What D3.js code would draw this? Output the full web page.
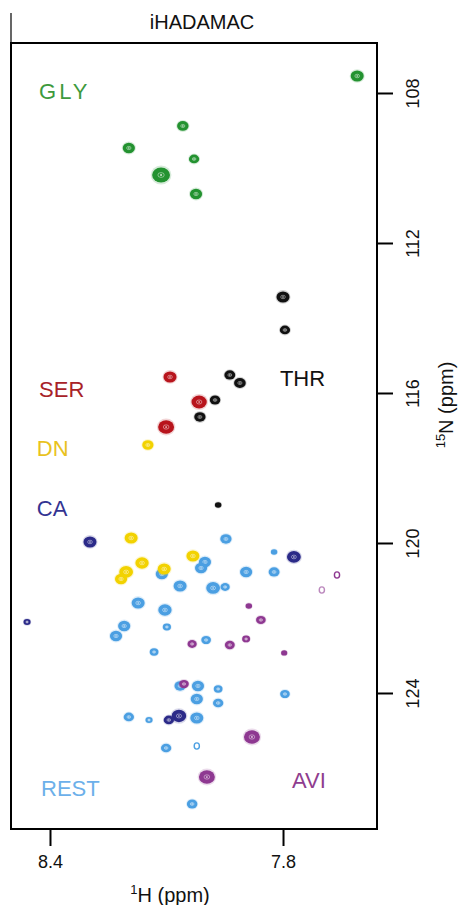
<!DOCTYPE html>
<html>
<head>
<meta charset="utf-8">
<script src="https://cdn.jsdelivr.net/npm/d3@7"></script>
<style>
  html, body { margin: 0; padding: 0; background: #fff; }
  svg { display: block; font-family: "Liberation Sans", Arial, Helvetica, sans-serif; }
</style>
</head>
<body>
<svg id="chart" width="463" height="905"></svg>
<script>
// ---- data: peaks as [1H ppm, 15N ppm, relative intensity] ----
const glyPeaks = [[7.609,107.547,4.0],[8.058,108.88,3.1],[8.197,109.467,3.5],[8.029,109.76,2.5],[8.114,110.187,7.5],[8.024,110.693,3.5]];
const thrPeaks = [[7.800,113.44,4.0],[7.795,114.32,2.5],[7.937,115.52,2.8],[7.911,115.733,3.2],[7.975,116.187,2.6],[8.014,116.64,3.0],[7.967,118.987,1.0]];
const serPeaks = [[8.091,115.573,4.0],[8.016,116.24,5.5],[8.101,116.907,6.0]];
const dnPeaks  = [[8.148,117.387,3.0],[8.191,119.867,4.0],[8.163,120.533,4.2],[8.204,120.773,4.5],[8.217,120.96,3.5],[8.106,120.693,4.0],[8.032,120.347,4.0]];
const caPeaks  = [[8.297,119.973,4.0],[8.459,122.107,1.2],[7.772,120.373,4.5],[8.068,124.613,5.0],[8.094,124.72,2.5]];
const aviPeaks = [[8.034,122.693,2.0],[7.661,120.853,0.8],[7.700,121.253,0.8],[7.888,121.68,1.0],[7.857,122.053,2.2],[7.937,122.72,2.3],[7.895,122.56,1.5],[7.797,122.933,0.9],[8.055,123.76,2.2],[7.880,125.173,6.0],[7.996,126.24,6.0]];
const restPeaks = [[8.112,120.827,3.5],[8.065,121.147,4.0],[8.173,121.6,4.0],[8.104,121.787,4.2],[8.209,122.213,3.5],[8.230,122.48,3.5],[8.099,122.24,1.6],[8.132,122.907,1.8],[7.947,119.893,3.0],[8.001,120.507,3.5],[8.011,120.667,3.5],[7.823,120.24,1.0],[7.895,120.773,3.5],[7.823,120.773,2.8],[7.980,121.2,4.5],[7.949,121.173,2.0],[7.998,122.587,2.2],[8.065,123.813,3.0],[8.019,123.813,3.5],[7.967,123.893,1.8],[7.795,124.027,2.2],[8.022,124.16,3.5],[7.967,124.267,2.5],[8.197,124.64,2.5],[8.145,124.72,1.2],[8.022,124.667,4.0],[8.101,125.467,2.5],[8.022,125.413,0.8],[8.034,126.96,2.6]];

const groupNames = ["REST","DN","CA","AVI","THR","SER","GLY"];
const groupLabelPos = {GLY:[8.428,107.947], SER:[8.428,115.893], THR:[7.808,115.6], DN:[8.434,117.467], CA:[8.434,119.067], REST:[8.423,126.533], AVI:[7.777,126.32]};
const xTicks = [8.4, 7.8];
const yTicks = [108, 112, 116, 120, 124];
const xDomain = [8.5004, 7.558];
const yDomain = [106.667, 127.627];
const titleText = "iHADAMAC";

// ---- styles ----
const peakColor = {GLY:"#239230", THR:"#111111", SER:"#b8141c", DN:"#f2d200", CA:"#2b2a88", AVI:"#8e3891", REST:"#4b9fe2"};
const labelColor = {GLY:"#3d9a3d", THR:"#111111", SER:"#a82228", DN:"#e9c21e", CA:"#333492", AVI:"#8f3d8f", REST:"#6cb0ea"};
const peakData = {GLY:glyPeaks, THR:thrPeaks, SER:serPeaks, DN:dnPeaks, CA:caPeaks, AVI:aviPeaks, REST:restPeaks};

const svg = d3.select("#chart");
const x = d3.scaleLinear().domain(xDomain).range([11, 377]);
const y = d3.scaleLinear().domain(yDomain).range([43, 829]);
const r = d3.scaleSqrt().domain([0, 10]).range([0, 9.2]);

// title + stub line
svg.append("line").attr("x1", 11).attr("x2", 11).attr("y1", 13).attr("y2", 43)
  .attr("stroke", "#000").attr("stroke-width", 1.2);
svg.append("text").attr("x", 202).attr("y", 29).attr("text-anchor", "middle")
  .attr("font-size", 20).attr("fill", "#111").text(titleText);

// peaks
const plot = svg.append("g");
groupNames.forEach(name => {
  const col = peakColor[name];
  const g = plot.append("g").attr("class", "grp-" + name);
  peakData[name].forEach(p => {
    const cx = x(p[0]), cy = y(p[1]), rr = r(p[2]);
    if (p[2] < 0.85) {
      g.append("ellipse").attr("cx", cx).attr("cy", cy).attr("rx", rr * 1.0).attr("ry", rr * 1.2)
        .attr("fill", "none").attr("stroke", col).attr("stroke-width", 1.4)
        .attr("stroke-opacity", name === "AVI" && p[0] > 7.68 ? 0.6 : 1);
      return;
    }
    g.append("ellipse").attr("cx", cx).attr("cy", cy).attr("rx", rr * 1.3).attr("ry", rr * 1.18)
      .attr("fill", col).attr("opacity", 0.18);
    g.append("ellipse").attr("cx", cx).attr("cy", cy).attr("rx", rr * 1.12).attr("ry", rr * 0.95)
      .attr("fill", col);
    if (rr > 3) {
      g.append("ellipse").attr("cx", cx).attr("cy", cy).attr("rx", rr * 0.4).attr("ry", rr * 0.3)
        .attr("fill", "none").attr("stroke", "#fff").attr("stroke-opacity", 0.55).attr("stroke-width", 0.8);
      g.append("circle").attr("cx", cx).attr("cy", cy).attr("r", Math.max(0.8, rr * 0.12))
        .attr("fill", "#fff").attr("opacity", 0.85);
    }
  });
});

// group labels
groupNames.forEach(name => {
  const pos = groupLabelPos[name];
  svg.append("text").attr("x", x(pos[0])).attr("y", y(pos[1])).attr("dy", "0.35em")
    .attr("font-size", 22).attr("fill", labelColor[name])
    .attr("letter-spacing", name === "GLY" ? 3 : 0)
    .text(name);
});

// frame
svg.append("rect").attr("x", 11).attr("y", 43).attr("width", 366).attr("height", 786)
  .attr("fill", "none").attr("stroke", "#000").attr("stroke-width", 2);

// bottom axis
const xAxis = svg.append("g").attr("transform", "translate(0,829)")
  .call(d3.axisBottom(x).tickValues(xTicks).tickSize(17).tickPadding(9).tickFormat(d3.format(".1f")));
xAxis.select(".domain").remove();
xAxis.selectAll("line").attr("stroke", "#000").attr("stroke-width", 2);
xAxis.selectAll("text").attr("font-size", 18).attr("fill", "#111").attr("font-family", "Liberation Sans, Arial, sans-serif");

// right axis
const yAxis = svg.append("g").attr("transform", "translate(377,0)")
  .call(d3.axisRight(y).tickValues(yTicks).tickSize(16));
yAxis.select(".domain").remove();
yAxis.selectAll("line").attr("stroke", "#000").attr("stroke-width", 2);
yAxis.selectAll("text")
  .attr("font-size", 18).attr("fill", "#111").attr("font-family", "Liberation Sans, Arial, sans-serif")
  .attr("text-anchor", "middle").attr("transform", "rotate(-90)")
  .attr("x", 0).attr("y", 36).attr("dy", "0.35em");

// axis titles
const xt = svg.append("text").attr("x", 170).attr("y", 902).attr("text-anchor", "middle")
  .attr("font-size", 20).attr("fill", "#111");
xt.append("tspan").attr("font-size", 13).attr("dy", -8).text("1");
xt.append("tspan").attr("dy", 8).text("H (ppm)");

const yt = svg.append("text").attr("transform", "translate(453,405) rotate(-90)")
  .attr("text-anchor", "middle").attr("font-size", 20).attr("fill", "#111");
yt.append("tspan").attr("font-size", 13).attr("dy", -8).text("15");
yt.append("tspan").attr("dy", 8).text("N (ppm)");
</script>
</body>
</html>
